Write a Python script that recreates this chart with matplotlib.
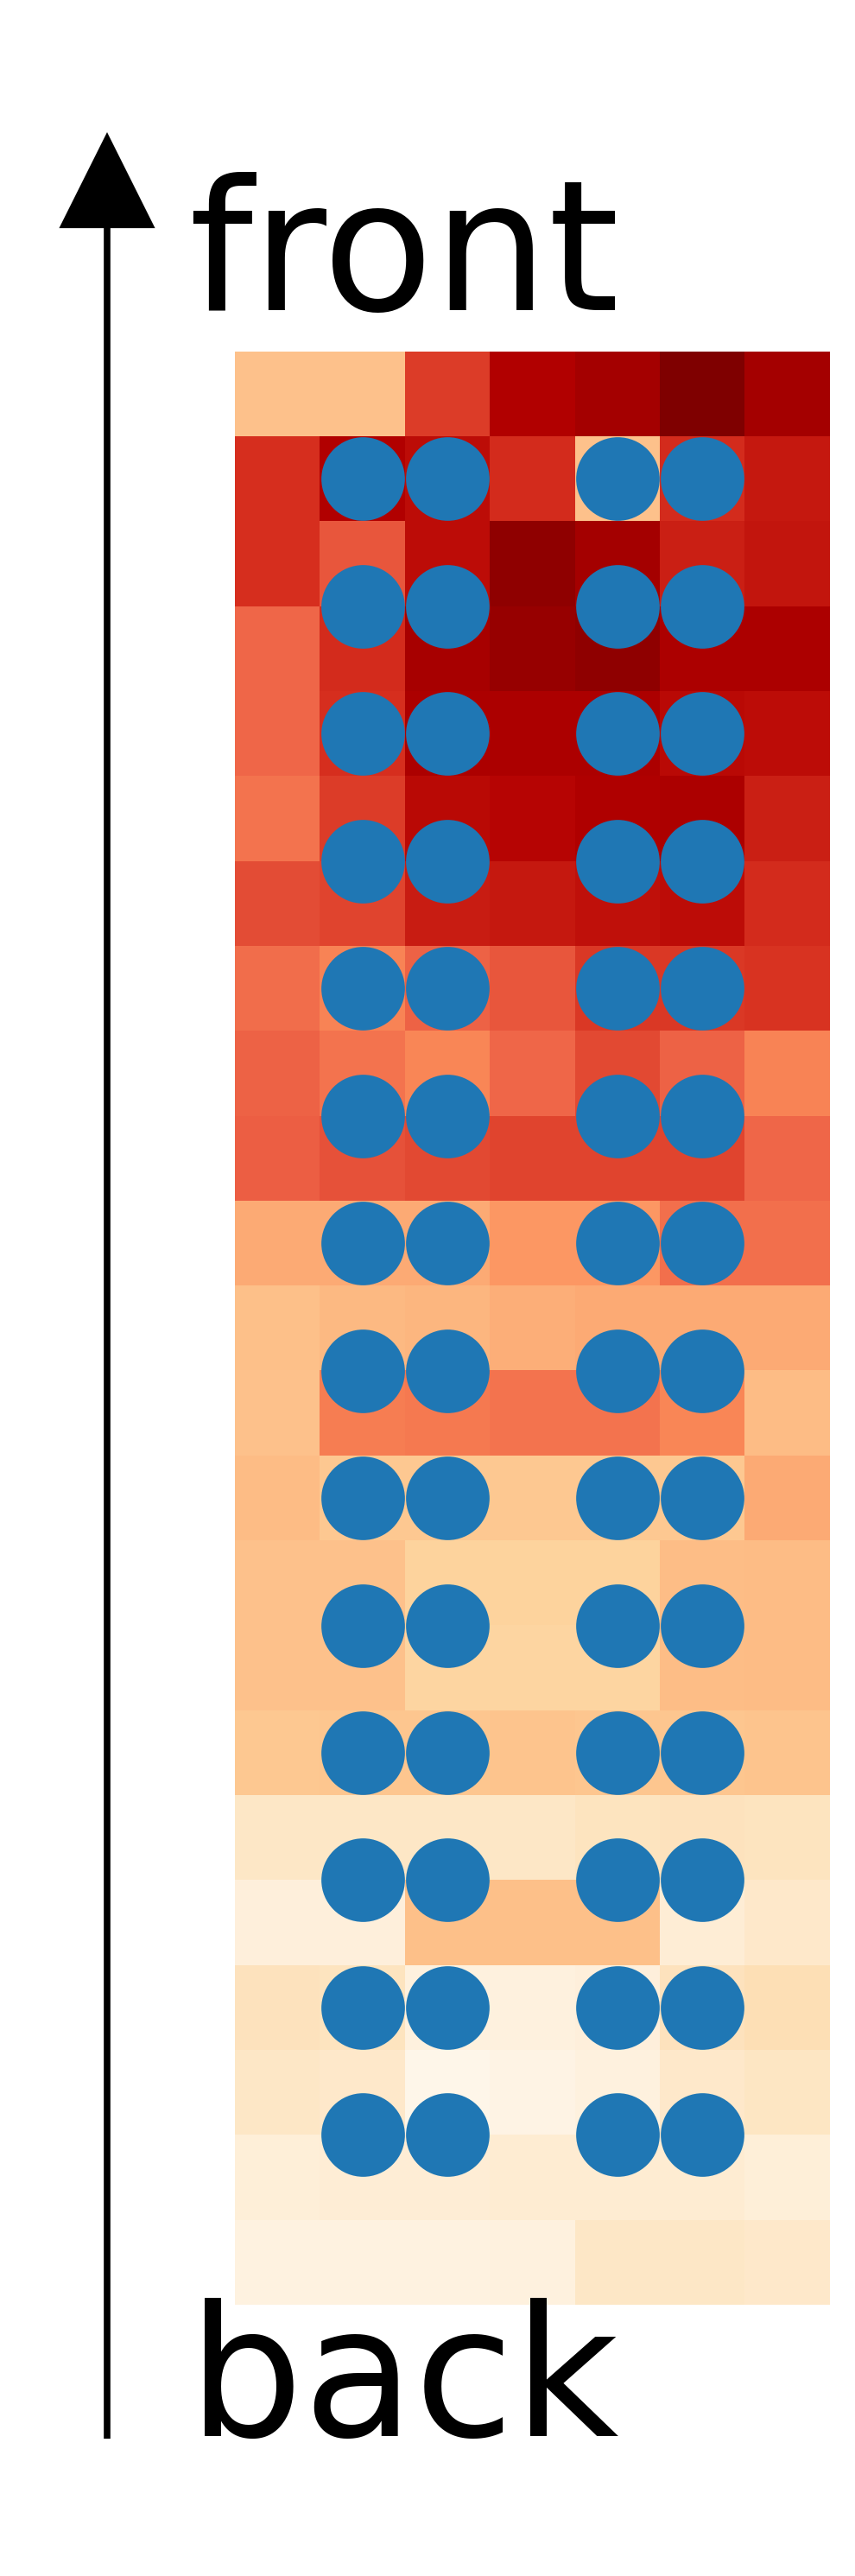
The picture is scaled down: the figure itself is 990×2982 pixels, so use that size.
import numpy as np
import matplotlib
matplotlib.use("Agg")
import matplotlib.pyplot as plt

# heat values (OrRd scale 0..1), row 0 = front, row 22 = back
heat_rows = [
    [0.34, 0.34, 0.72, 0.875, 0.91, 1.00, 0.91],
    [0.75, 0.875, 0.84, 0.76, 0.34, 0.76, 0.81],
    [0.75, 0.66, 0.84, 0.96, 0.91, 0.79, 0.82],
    [0.62, 0.76, 0.90, 0.94, 0.96, 0.89, 0.89],
    [0.62, 0.75, 0.89, 0.89, 0.89, 0.85, 0.84],
    [0.58, 0.72, 0.85, 0.86, 0.88, 0.89, 0.79],
    [0.68, 0.70, 0.80, 0.81, 0.83, 0.84, 0.76],
    [0.60, 0.53, 0.63, 0.66, 0.73, 0.73, 0.74],
    [0.63, 0.58, 0.52, 0.62, 0.69, 0.63, 0.53],
    [0.64, 0.67, 0.69, 0.70, 0.70, 0.70, 0.62],
    [0.42, 0.42, 0.42, 0.47, 0.47, 0.59, 0.59],
    [0.35, 0.38, 0.39, 0.41, 0.42, 0.42, 0.42],
    [0.34, 0.55, 0.56, 0.58, 0.58, 0.52, 0.37],
    [0.37, 0.31, 0.31, 0.31, 0.31, 0.31, 0.42],
    [0.34, 0.34, 0.25, 0.25, 0.25, 0.36, 0.37],
    [0.34, 0.34, 0.24, 0.24, 0.24, 0.36, 0.37],
    [0.31, 0.32, 0.32, 0.33, 0.32, 0.32, 0.33],
    [0.13, 0.13, 0.13, 0.13, 0.15, 0.16, 0.15],
    [0.06, 0.06, 0.35, 0.35, 0.35, 0.08, 0.12],
    [0.16, 0.15, 0.05, 0.05, 0.06, 0.16, 0.18],
    [0.13, 0.12, 0.01, 0.03, 0.05, 0.12, 0.14],
    [0.07, 0.08, 0.08, 0.09, 0.09, 0.09, 0.07],
    [0.04, 0.04, 0.04, 0.05, 0.13, 0.13, 0.12],
]

# sensor positions (column index, row index)
dot_cols = [1, 2, 4, 5]
dot_rows = [1, 2.5, 4, 5.5, 7, 8.5, 10, 11.5, 13, 14.5, 16, 17.5, 19, 20.5]

label_top = "front"
label_bottom = "back"

heat = np.array(heat_rows)

fig = plt.figure(figsize=(9.9, 29.82), dpi=100)

ax = fig.add_axes([272 / 990, 1 - 2668 / 2982, 689 / 990, 2261 / 2982])
ax.imshow(heat, cmap="OrRd", vmin=0, vmax=1, aspect="auto",
          interpolation="nearest")
xx, yy = np.meshgrid(dot_cols, dot_rows)
ax.scatter(xx.ravel(), yy.ravel(), s=4850, color="#1f77b4", linewidths=0,
           zorder=3)
ax.set_xlim(-0.5, heat.shape[1] - 0.5)
ax.set_ylim(heat.shape[0] - 0.5, -0.5)
ax.axis("off")

# direction arrow
fig.add_artist(plt.Annotation(
    "", xy=(124 / 990, 1 - 153 / 2982), xytext=(124 / 990, 1 - 2823 / 2982),
    xycoords="figure fraction", textcoords="figure fraction",
    arrowprops=dict(width=5.5, headwidth=80, headlength=80, shrink=0,
                    facecolor="black", edgecolor="black", linewidth=0)))

fig.text(218 / 990, 1 - 359 / 2982, label_top, fontsize=151,
         va="baseline", ha="left")
fig.text(218 / 990, 1 - 2820 / 2982, label_bottom, fontsize=151,
         va="baseline", ha="left")

fig.savefig("out.png", dpi=100)
